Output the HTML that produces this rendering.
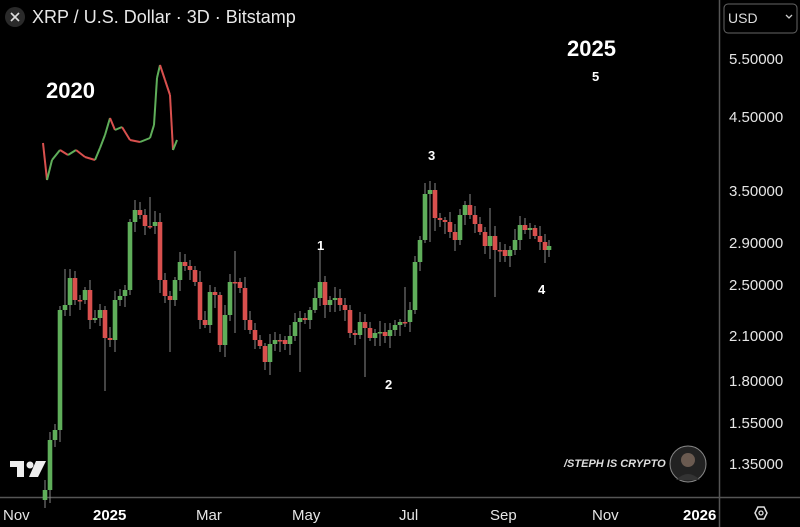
<!DOCTYPE html>
<html><head><meta charset="utf-8"><style>
html,body{margin:0;padding:0;background:#000;}
body{width:800px;height:527px;overflow:hidden;position:relative;font-family:"Liberation Sans",sans-serif;color:#e6e6e6;}
.t{position:absolute;white-space:nowrap;}
</style></head><body>
<svg id="s" width="800" height="527" style="position:absolute;left:0;top:0">
<line x1="719.5" y1="0" x2="719.5" y2="527" stroke="#555" stroke-width="1.5"/>
<line x1="0" y1="497.5" x2="800" y2="497.5" stroke="#555" stroke-width="1.5"/>
<rect x="724" y="4" width="73" height="29" rx="4" fill="none" stroke="#666"/>
<circle cx="15" cy="17" r="10" fill="#2a2a2a"/>
<path d="M11 13 L19 21 M19 13 L11 21" stroke="#ddd" stroke-width="1.6"/>
<path d="M786 15 l3 3 l3 -3" stroke="#ccc" fill="none" stroke-width="1.3"/>
<polygon points="755,513 758,507 764,507 767,513 764,519 758,519" fill="none" stroke="#ddd" stroke-width="1.5"/>
<circle cx="761" cy="513" r="2" fill="none" stroke="#ddd" stroke-width="1.3"/>
<circle cx="688" cy="464" r="18" fill="#222" stroke="#888"/>
<circle cx="688" cy="460" r="7" fill="#6a5a50"/>
<path d="M676 480 Q688 468 700 480" fill="#333"/>
<g fill="#eee"><rect x="10" y="461" width="14" height="6"/><rect x="17" y="461" width="7" height="16"/><circle cx="30" cy="465" r="3.5"/><polygon points="36,461 46,461 38,477 29,477"/></g>
<g id="c"></g>
<g id="m"></g>
</svg>
<div class="t" style="left:32px;top:7px;font-size:18px;color:#e8e8e8">XRP / U.S. Dollar · 3D · Bitstamp</div>
<div class="t" style="left:728px;top:10px;font-size:14px;color:#ddd">USD</div>
<div class="t" style="left:46px;top:78px;font-size:22px;font-weight:bold;color:#fff">2020</div>
<div class="t" style="left:567px;top:36px;font-size:22px;font-weight:bold;color:#fff">2025</div>
<div class="t" style="left:592px;top:69px;font-size:13px;font-weight:bold;color:#fff">5</div>
<div class="t" style="left:428px;top:148px;font-size:13px;font-weight:bold;color:#fff">3</div>
<div class="t" style="left:317px;top:238px;font-size:13px;font-weight:bold;color:#fff">1</div>
<div class="t" style="left:385px;top:377px;font-size:13px;font-weight:bold;color:#fff">2</div>
<div class="t" style="left:538px;top:282px;font-size:13px;font-weight:bold;color:#fff">4</div>
<div class="t" style="left:564px;top:458px;font-size:11px;font-weight:bold;color:#ddd;font-style:italic">/STEPH IS CRYPTO</div>
<div class="t" style="left:729px;top:51px;font-size:15px">5.50000</div>
<div class="t" style="left:729px;top:109px;font-size:15px">4.50000</div>
<div class="t" style="left:729px;top:183px;font-size:15px">3.50000</div>
<div class="t" style="left:729px;top:235px;font-size:15px">2.90000</div>
<div class="t" style="left:729px;top:277px;font-size:15px">2.50000</div>
<div class="t" style="left:729px;top:328px;font-size:15px">2.10000</div>
<div class="t" style="left:729px;top:373px;font-size:15px">1.80000</div>
<div class="t" style="left:729px;top:415px;font-size:15px">1.55000</div>
<div class="t" style="left:729px;top:456px;font-size:15px">1.35000</div>
<div class="t" style="left:3px;top:507px;font-size:15px">Nov</div>
<div class="t" style="left:93px;top:507px;font-size:15px;font-weight:bold;color:#fff">2025</div>
<div class="t" style="left:196px;top:507px;font-size:15px">Mar</div>
<div class="t" style="left:292px;top:507px;font-size:15px">May</div>
<div class="t" style="left:399px;top:507px;font-size:15px">Jul</div>
<div class="t" style="left:490px;top:507px;font-size:15px">Sep</div>
<div class="t" style="left:592px;top:507px;font-size:15px">Nov</div>
<div class="t" style="left:683px;top:507px;font-size:15px;font-weight:bold;color:#fff;width:36px;overflow:hidden">2026</div>
<script>
(function(){
var G='#5fae5a',R='#d9504e',ns='http://www.w3.org/2000/svg';
function add(g,tag,a){var e=document.createElementNS(ns,tag);for(var k in a)e.setAttribute(k,a[k]);g.appendChild(e);}
var kp=[[40,500],[45,490],[50,440],[55,430],[60,310],[65,305],[70,278],[75,300],[80,300],[85,290],[90,320],[95,318],[100,310],[105,338],[110,340],[115,300],[120,296],[125,290],[130,222],[135,210],[140,215],[145,226],[150,226],[155,222],[160,280],[165,296],[170,300],[175,280],[180,262],[185,266],[190,270],[195,282],[200,320],[205,325],[210,292],[215,295],[220,345],[225,315],[230,282],[235,282],[240,288],[245,320],[250,330],[255,340],[260,346],[265,362],[270,344],[275,340],[280,340],[285,344],[290,336],[295,322],[300,318],[305,320],[310,310],[315,298],[320,282],[325,305],[330,300],[335,298],[340,305],[345,310],[350,333],[355,335],[360,322],[365,328],[370,338],[375,333],[380,332],[385,336],[390,330],[395,325],[400,322],[405,322],[410,310],[415,262],[420,240],[425,194],[430,190],[435,218],[440,220],[445,222],[450,232],[455,240],[460,215],[465,205],[470,215],[475,224],[480,232],[485,246],[490,236],[495,250],[500,250],[505,256],[510,250],[515,240],[520,225],[525,230],[530,228],[535,236],[540,242],[545,250],[549,246]];
var g=document.getElementById('c');
for(var i=1;i<kp.length;i++){var x=kp[i][0],o=kp[i-1][1],c=kp[i][1];var col=(c<o)?G:R;
var tp=Math.min(o,c),bt=Math.max(o,c);var h=tp-3-(i*7%9),l=bt+3+(i*5%11);if(i%13==0)l+=40;if(i%17==5)h-=25;
add(g,'line',{x1:x,y1:h,x2:x,y2:l,stroke:'#888','stroke-width':1});
add(g,'rect',{x:x-2.3,y:tp,width:4.6,height:Math.max(1.5,bt-tp),fill:col});}
var m=document.getElementById('m');
var p=[[43,143],[47,180],[52,160],[60,150],[68,155],[76,150],[85,157],[95,160],[100,148],[105,135],[110,118],[115,130],[122,127],[130,140],[140,142],[150,138],[154,125],[157,78],[160,65],[165,80],[170,95],[173,150],[177,140]];
for(var i=1;i<p.length;i++){add(m,'line',{x1:p[i-1][0],y1:p[i-1][1],x2:p[i][0],y2:p[i][1],stroke:p[i][1]<p[i-1][1]?G:R,'stroke-width':2});}
})();
</script>
</body></html>
